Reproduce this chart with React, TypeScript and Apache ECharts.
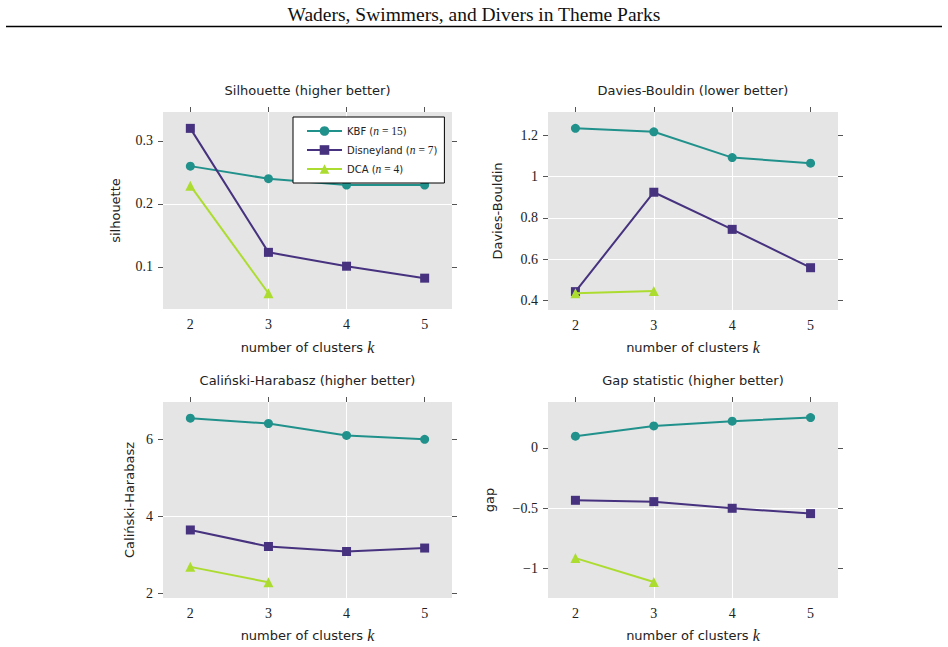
import React, { useEffect, useRef } from 'react';
import * as echarts from 'echarts';

// ---- data ----
const clusterCounts = [2, 3, 4, 5];
const seriesNames = ['KBF', 'Disneyland', 'DCA'];
const sampleSizes = [15, 7, 4];

const silhouetteKBF = [0.26, 0.24, 0.23, 0.23];
const silhouetteDisneyland = [0.32, 0.123, 0.101, 0.082];
const silhouetteDCA = [0.229, 0.058];

const daviesBouldinKBF = [1.234, 1.217, 1.092, 1.065];
const daviesBouldinDisneyland = [0.442, 0.924, 0.744, 0.558];
const daviesBouldinDCA = [0.434, 0.445];

const calinskiKBF = [6.55, 6.41, 6.1, 6.0];
const calinskiDisneyland = [3.64, 3.21, 3.08, 3.17];
const calinskiDCA = [2.68, 2.28];

const gapKBF = [0.096, 0.181, 0.22, 0.25];
const gapDisneyland = [-0.434, -0.445, -0.5, -0.544];
const gapDCA = [-0.912, -1.11];

const panelTitles = [
  'Silhouette (higher better)',
  'Davies-Bouldin (lower better)',
  'Caliński-Harabasz (higher better)',
  'Gap statistic (higher better)',
];
const yAxisNames = ['silhouette', 'Davies-Bouldin', 'Caliński-Harabasz', 'gap'];
const xAxisName = 'number of clusters';

const silhouetteTicks = [0.1, 0.2, 0.3];
const daviesBouldinTicks = [0.4, 0.6, 0.8, 1, 1.2];
const calinskiTicks = [2, 4, 6];
const gapTicks = [-1, -0.5, 0];

const xLimits = [1.65, 5.35];
const silhouetteLimits = [0.033, 0.346];
const daviesBouldinLimits = [0.353, 1.313];
const calinskiLimits = [1.87, 6.97];
const gapLimits = [-1.242, 0.379];

const mainTitle = 'Waders, Swimmers, and Divers in Theme Parks';

// ---- styling ----
const seriesColors = ['#21918c', '#46327e', '#addc30'];
const seriesSymbols = ['circle', 'rect', 'triangle'];
const seriesSymbolSizes = [9, 9, 10];

const SANS = 'DejaVu Sans';
const SERIF = 'Liberation Serif';
const TEXT = '#222';
const TICK = '#555';

const panelValues = [
  [silhouetteKBF, silhouetteDisneyland, silhouetteDCA],
  [daviesBouldinKBF, daviesBouldinDisneyland, daviesBouldinDCA],
  [calinskiKBF, calinskiDisneyland, calinskiDCA],
  [gapKBF, gapDisneyland, gapDCA],
];
const panelTicks = [silhouetteTicks, daviesBouldinTicks, calinskiTicks, gapTicks];
const panelLimits = [silhouetteLimits, daviesBouldinLimits, calinskiLimits, gapLimits];

const gridBoxes = [
  { left: 163, top: 112, width: 289, height: 197 },
  { left: 548, top: 112, width: 290, height: 198 },
  { left: 163, top: 402, width: 289, height: 196 },
  { left: 548, top: 402, width: 290, height: 196 },
];
const yNameGaps = [41, 44, 27, 52];
const xNameGaps = [30, 29, 29, 29];

const fmtTick = (v: number) => String(v).replace('-', '\u2212');

function buildOption() {
  const grid: any[] = [];
  const xAxis: any[] = [];
  const yAxis: any[] = [];
  const series: any[] = [];
  const graphic: any[] = [];

  gridBoxes.forEach((box, i) => {
    grid.push({
      ...box,
      show: true,
      backgroundColor: '#e5e5e5',
      borderWidth: 0,
      containLabel: false,
      outerBoundsMode: 'none',
    });

    // bottom axis: labels, name and vertical grid lines
    xAxis.push({
      type: 'value',
      gridIndex: i,
      position: 'bottom',
      min: xLimits[0],
      max: xLimits[1],
      axisLine: { show: false, onZero: false },
      axisTick: { show: false, customValues: clusterCounts },
      axisLabel: {
        customValues: clusterCounts,
        fontFamily: SERIF,
        fontSize: 14,
        color: TEXT,
        margin: 8,
      },
      splitLine: {
        show: true,
        showMinLine: false,
        showMaxLine: false,
        lineStyle: { color: '#ffffff', width: 1 },
      },
      name: `${xAxisName} {k|k}`,
      nameLocation: 'middle',
      nameGap: xNameGaps[i],
      nameTextStyle: {
        fontFamily: SANS,
        fontSize: 13,
        color: TEXT,
        rich: { k: { fontFamily: SERIF, fontStyle: 'italic', fontSize: 16, color: TEXT } },
      },
    });
    // top axis: outward tick marks only
    xAxis.push({
      type: 'value',
      gridIndex: i,
      position: 'top',
      min: xLimits[0],
      max: xLimits[1],
      axisLine: { show: false, onZero: false },
      axisTick: { show: true, length: 5, customValues: clusterCounts, lineStyle: { color: TICK, width: 1 } },
      axisLabel: { show: false, customValues: clusterCounts },
      splitLine: { show: false },
    });

    const ticks = panelTicks[i];
    const lim = panelLimits[i];
    // left axis: labels, tick marks, horizontal grid lines
    yAxis.push({
      type: 'value',
      gridIndex: i,
      position: 'left',
      min: lim[0],
      max: lim[1],
      axisLine: { show: false, onZero: false },
      axisTick: { show: true, length: 5, customValues: ticks, lineStyle: { color: TICK, width: 1 } },
      axisLabel: {
        customValues: ticks,
        formatter: fmtTick,
        fontFamily: SERIF,
        fontSize: 14,
        color: TEXT,
        margin: 10,
      },
      splitLine: {
        show: true,
        showMinLine: false,
        showMaxLine: false,
        lineStyle: { color: '#ffffff', width: 1 },
      },
      name: yAxisNames[i],
      nameLocation: 'middle',
      nameGap: yNameGaps[i],
      nameTextStyle: { fontFamily: SANS, fontSize: 13, color: TEXT },
    });
    // right axis: outward tick marks only
    yAxis.push({
      type: 'value',
      gridIndex: i,
      position: 'right',
      min: lim[0],
      max: lim[1],
      axisLine: { show: false, onZero: false },
      axisTick: { show: true, length: 5, customValues: ticks, lineStyle: { color: TICK, width: 1 } },
      axisLabel: { show: false, customValues: ticks },
      splitLine: { show: false },
    });

    panelValues[i].forEach((vals, s) => {
      series.push({
        type: 'line',
        name: seriesNames[s],
        xAxisIndex: 2 * i,
        yAxisIndex: 2 * i,
        data: vals.map((v, j) => [clusterCounts[j], v]),
        symbol: seriesSymbols[s],
        symbolSize: seriesSymbolSizes[s],
        showSymbol: true,
        clip: false,
        lineStyle: { color: seriesColors[s], width: 2 },
        itemStyle: { color: seriesColors[s], borderWidth: 0 },
        emphasis: { disabled: true },
        z: 3 + s,
      });
    });

    graphic.push({
      type: 'text',
      x: box.left + box.width / 2,
      y: box.top - 22,
      style: {
        text: panelTitles[i],
        fontFamily: SANS,
        fontSize: 13,
        fill: TEXT,
        align: 'center',
        verticalAlign: 'middle',
      },
    });
  });

  graphic.push({
    type: 'text',
    x: 474,
    y: 14,
    style: {
      text: mainTitle,
      fontFamily: SERIF,
      fontSize: 19.5,
      fill: '#111',
      align: 'center',
      verticalAlign: 'middle',
    },
  });
  graphic.push({
    type: 'line',
    shape: { x1: 6, y1: 26.5, x2: 942, y2: 26.5 },
    style: { stroke: '#000', lineWidth: 1.3 },
  });

  return {
    animation: false,
    backgroundColor: '#ffffff',
    grid,
    xAxis,
    yAxis,
    series,
    graphic,
    legend: {
      data: seriesNames,
      orient: 'vertical',
      left: 293,
      top: 117,
      padding: [8, 7, 8, 13],
      itemGap: 7,
      itemWidth: 35,
      itemHeight: 12,
      selectedMode: false,
      backgroundColor: '#ffffff',
      borderColor: '#000000',
      borderWidth: 1,
      borderRadius: 0,
      textStyle: {
        fontFamily: SANS,
        fontSize: 10,
        color: TEXT,
        rich: {
          n: { fontFamily: SERIF, fontStyle: 'italic', fontSize: 11.5, color: TEXT },
          m: { fontFamily: SERIF, fontSize: 11.5, color: TEXT },
        },
      },
      formatter: (name: string) => {
        const idx = seriesNames.indexOf(name);
        return `${name} ({n|n}{m| = ${sampleSizes[idx]}})`;
      },
    },
  };
}

export default function App() {
  const ref = useRef<HTMLDivElement>(null);
  useEffect(() => {
    if (!ref.current) return;
    const chart = echarts.init(ref.current, undefined, { renderer: 'svg' });
    chart.setOption(buildOption() as any);
    return () => chart.dispose();
  }, []);
  return (
    <div
      ref={ref}
      style={{ position: 'absolute', left: 0, top: 0, width: 948, height: 647, background: '#fff' }}
    />
  );
}
